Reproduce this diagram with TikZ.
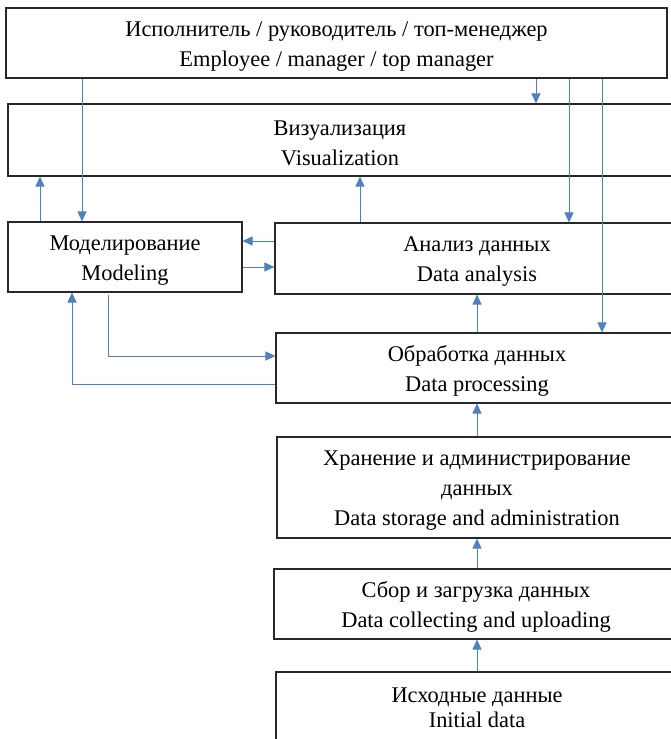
\documentclass[tikz,border=0pt]{standalone}
\usepackage{fontspec}
\setmainfont{Liberation Serif}
\usetikzlibrary{arrows.meta}
\definecolor{arrblue}{RGB}{79,129,189}
\definecolor{boxline}{RGB}{40,40,40}
\begin{document}
\begin{tikzpicture}[x=1pt,y=-1pt,
  box/.style={draw=boxline,line width=1.1pt,rectangle,inner sep=0pt},
  txt/.style={align=center,inner sep=0pt,font=\fontsize{22.4}{30}\selectfont,yshift=-3pt},
  arr/.style={draw=arrblue,line width=1pt,-{Triangle[length=10pt,width=9pt]}}]
\useasboundingbox (0,0) rectangle (670,739);
\node[box,minimum width=661pt,minimum height=70pt] (top) at (336.5,43) {};
\node[txt,yshift=-1pt] (toptxt) at (top)
  {Исполнитель / руководитель / топ-менеджер\\Employee / manager / top manager};
\node[box,minimum width=664pt,minimum height=72pt] (viz) at (340,140) {};
\node[txt] (viztxt) at (viz) {Визуализация\\Visualization};
\node[box,minimum width=234pt,minimum height=70pt] (mod) at (125,257) {};
\node[txt,yshift=-1pt] (modtxt) at (mod) {Моделирование\\Modeling};
\node[box,minimum width=404pt,minimum height=71pt] (ana) at (477,258.5) {};
\node[txt] (anatxt) at (ana) {Анализ данных\\Data analysis};
\node[box,minimum width=402pt,minimum height=70pt] (proc) at (477,368) {};
\node[txt] (proctxt) at (proc) {Обработка данных\\Data processing};
\node[box,minimum width=400pt,minimum height=101pt] (stor) at (477,487.5) {};
\node[txt] (stortxt) at (stor)
  {Хранение и администрирование\\данных\\Data storage and administration};
\node[box,minimum width=404pt,minimum height=70pt] (coll) at (476,604) {};
\node[txt] (colltxt) at (coll) {Сбор и загрузка данных\\Data collecting and uploading};
\node[box,minimum width=402pt,minimum height=84pt] (init) at (477,714) {};
\node[txt,font=\fontsize{22.4}{25}\selectfont,yshift=0pt] (inittxt) at (477,704.5)
  {Исходные данные\\Initial data};
% column / row helpers
\coordinate (c40) at (40,0);
\coordinate (c72) at (72,0);
\coordinate (c82) at (82,0);
\coordinate (c108) at (108,0);
\coordinate (c360) at (360,0);
\coordinate (c477) at (477,0);
\coordinate (c536) at (536,0);
\coordinate (c569) at (569,0);
\coordinate (c602) at (602,0);
\coordinate (r241) at (0,241);
\coordinate (r267) at (0,267);
\coordinate (r356) at (0,356);
\coordinate (r384) at (0,384);
% arrows
\draw[arr] (top.south -| c536) -- (viz.north -| c536);
\draw[arr] (top.south -| c569) -- (ana.north -| c569);
\draw[arr] (top.south -| c602) -- (proc.north -| c602);
\draw[arr] (top.south -| c82) -- (mod.north -| c82);
\draw[arr] (mod.north -| c40) -- (viz.south -| c40);
\draw[arr] (ana.north -| c360) -- (viz.south -| c360);
\draw[arr] (ana.west |- r241) -- (mod.east |- r241);
\draw[arr] (mod.east |- r267) -- (ana.west |- r267);
\draw[arr] ([yshift=-2pt]mod.south -| c108) -- (c108 |- r356) -- (proc.west |- r356);
\draw[arr] (proc.west |- r384) -- (c72 |- r384) -- (mod.south -| c72);
\draw[arr] (proc.north -| c477) -- (ana.south -| c477);
\draw[arr] (stor.north -| c477) -- (proc.south -| c477);
\draw[arr] (coll.north -| c477) -- (stor.south -| c477);
\draw[arr] (init.north -| c477) -- (coll.south -| c477);
\end{tikzpicture}
\end{document}
